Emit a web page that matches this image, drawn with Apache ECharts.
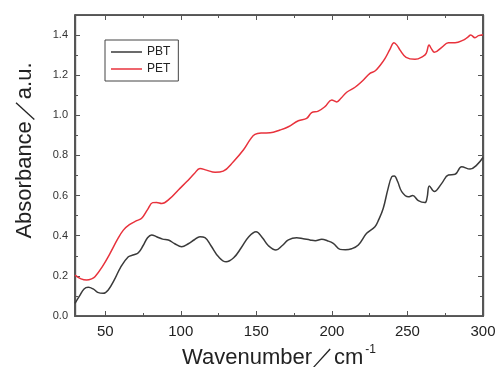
<!DOCTYPE html>
<html>
<head>
<meta charset="utf-8">
<script src="https://cdn.jsdelivr.net/npm/echarts@6/dist/echarts.min.js"></script>
<style>html,body{margin:0;padding:0;background:#fff;}#c{width:501px;height:367px;}</style>
</head>
<body>
<div id="c"></div>
<script>
const seriesNames = ['PBT', 'PET'];
const pbtX = [30,33,36,38.8,42,45,48.7,52,56,60,65.3,69,71.9,75,78,80.7,84,88,91.8,96,100.6,105,109,112.7,116,120,125,130,135,140,145,149.8,154,158,163,167,171.2,176.7,181,185.5,189,193.3,197,200.9,205.4,209,213.1,217.5,223,228.5,231,234,237,239.6,241.3,243.5,246.2,250.6,253.5,257.2,261.6,263,264.5,267.8,272.7,277.1,281.5,285.9,291.4,295.8,300];
const pbtY = [0.063,0.10,0.135,0.143,0.135,0.118,0.113,0.13,0.18,0.24,0.295,0.305,0.315,0.35,0.39,0.404,0.395,0.383,0.379,0.36,0.345,0.36,0.38,0.395,0.39,0.35,0.295,0.27,0.29,0.34,0.395,0.42,0.39,0.35,0.329,0.35,0.379,0.39,0.385,0.379,0.375,0.382,0.375,0.362,0.332,0.33,0.335,0.354,0.412,0.445,0.48,0.537,0.63,0.694,0.698,0.67,0.62,0.594,0.6,0.575,0.565,0.59,0.648,0.62,0.661,0.703,0.706,0.744,0.732,0.752,0.79];
const petX = [30,34,37.7,41,43.2,48,53.2,58,62,66,70.8,74.1,78,81.4,84,87.4,92.9,98.4,104,109,112.7,117,122.7,128.1,134.8,141.4,146,149.1,154,159.1,165.7,171.2,177.8,183.3,186.6,191,195.4,199.9,203.2,206,209.8,215.3,220,225.2,228.5,232,235.2,238.5,241.1,243,245.1,249.1,255,260.5,262.5,264.3,266,267.8,272.7,277.1,281.5,287,290,291.9,294.7,297,300];
const petY = [0.204,0.185,0.179,0.185,0.196,0.245,0.312,0.38,0.428,0.455,0.475,0.487,0.53,0.565,0.566,0.561,0.586,0.628,0.67,0.71,0.735,0.727,0.716,0.722,0.769,0.827,0.88,0.905,0.912,0.913,0.927,0.943,0.973,0.985,1.013,1.021,1.043,1.076,1.067,1.085,1.115,1.14,1.17,1.209,1.221,1.25,1.284,1.33,1.362,1.35,1.325,1.289,1.279,1.295,1.31,1.35,1.33,1.314,1.339,1.362,1.362,1.375,1.39,1.4,1.387,1.397,1.402];
const xTicks = [50,100,150,200,250,300];
const xMinorTicks = [75,125,175,225,275];
const yTicks = [0,0.2,0.4,0.6,0.8,1.0,1.2,1.4];
const yMinorTicks = [0.1,0.3,0.5,0.7,0.9,1.1,1.3];

const toPairs = (xs, ys) => xs.map((x, i) => [x, ys[i]]);
const axisColor = '#555';
const font = 'Liberation Sans, Arial, sans-serif';
const gridBox = { left: 75, right: 18, top: 15, bottom: 51, containLabel: false, outerBoundsMode: 'none',
  show: true, borderColor: axisColor, borderWidth: 1.2, backgroundColor: 'transparent' };

function xAxisDef(grid, pos, values, len, labels, extra) {
  return Object.assign({
    gridIndex: grid, type: 'value', position: pos, min: 30, max: 300,
    axisLine: { show: true, onZero: false, lineStyle: { color: axisColor, width: 1.2 } },
    axisTick: { show: true, inside: true, length: len, customValues: values, lineStyle: { color: axisColor, width: 1 } },
    axisLabel: labels ? { show: true, customValues: values, fontSize: 15, color: '#222', margin: 8, fontFamily: font } : { show: false },
    splitLine: { show: false }
  }, extra || {});
}
function yAxisDef(grid, pos, values, len, labels, extra) {
  return Object.assign({
    gridIndex: grid, type: 'value', position: pos, min: 0, max: 1.5,
    axisLine: { show: true, onZero: false, lineStyle: { color: axisColor, width: 1.2 } },
    axisTick: { show: true, inside: true, length: len, customValues: values, lineStyle: { color: axisColor, width: 1 } },
    axisLabel: labels ? { show: true, customValues: values, fontSize: 11, color: '#333', margin: 7, fontFamily: font, formatter: v => v.toFixed(1) } : { show: false },
    splitLine: { show: false }
  }, extra || {});
}
function dummy(i) {
  return { type: 'line', xAxisIndex: i, yAxisIndex: i, data: [], symbol: 'none', silent: true };
}

const chart = echarts.init(document.getElementById('c'), null, { renderer: 'canvas' });
chart.setOption({
  backgroundColor: '#fff',
  animation: false,
  grid: [
    Object.assign({}, gridBox), Object.assign({}, gridBox),
    Object.assign({}, gridBox), Object.assign({}, gridBox)
  ],
  legend: {
    data: seriesNames, orient: 'vertical', left: 105, top: 40,
    borderColor: '#444', borderWidth: 1, padding: [6, 8, 6, 6], itemGap: 5,
    icon: 'rect', itemWidth: 31, itemHeight: 1.5,
    textStyle: { fontSize: 12, color: '#222', fontFamily: font }
  },
  xAxis: [
    xAxisDef(0, 'bottom', xTicks, 5, true, {
      name: 'Wavenumber／cm{sup|-1}', nameLocation: 'middle', nameGap: 28,
      nameTextStyle: { fontSize: 22, color: '#222', fontFamily: font, rich: { sup: { fontSize: 12, verticalAlign: 'top', padding: [0, 0, 16, 2], color: '#222' } } }
    }),
    xAxisDef(1, 'bottom', xMinorTicks, 3, false),
    xAxisDef(2, 'top', xTicks, 5, false),
    xAxisDef(3, 'top', xMinorTicks, 3, false)
  ],
  yAxis: [
    yAxisDef(0, 'left', yTicks, 5, true, {
      name: 'Absorbance／a.u.', nameLocation: 'middle', nameGap: 39, nameRotate: 90,
      nameTextStyle: { fontSize: 22, color: '#222', fontFamily: font, padding: [0, 0, 0, 30] }
    }),
    yAxisDef(1, 'left', yMinorTicks, 3, false),
    yAxisDef(2, 'right', yTicks, 5, false),
    yAxisDef(3, 'right', yMinorTicks, 3, false)
  ],
  series: [
    { name: seriesNames[0], type: 'line', xAxisIndex: 0, yAxisIndex: 0, data: toPairs(pbtX, pbtY), symbol: 'none', smooth: 0.4,
      lineStyle: { color: '#3a3a3a', width: 1.5 }, itemStyle: { color: '#3a3a3a' } },
    { name: seriesNames[1], type: 'line', xAxisIndex: 0, yAxisIndex: 0, data: toPairs(petX, petY), symbol: 'none', smooth: 0.4,
      lineStyle: { color: '#e8323c', width: 1.5 }, itemStyle: { color: '#e8323c' } },
    dummy(1), dummy(2), dummy(3)
  ]
});
</script>
</body>
</html>
